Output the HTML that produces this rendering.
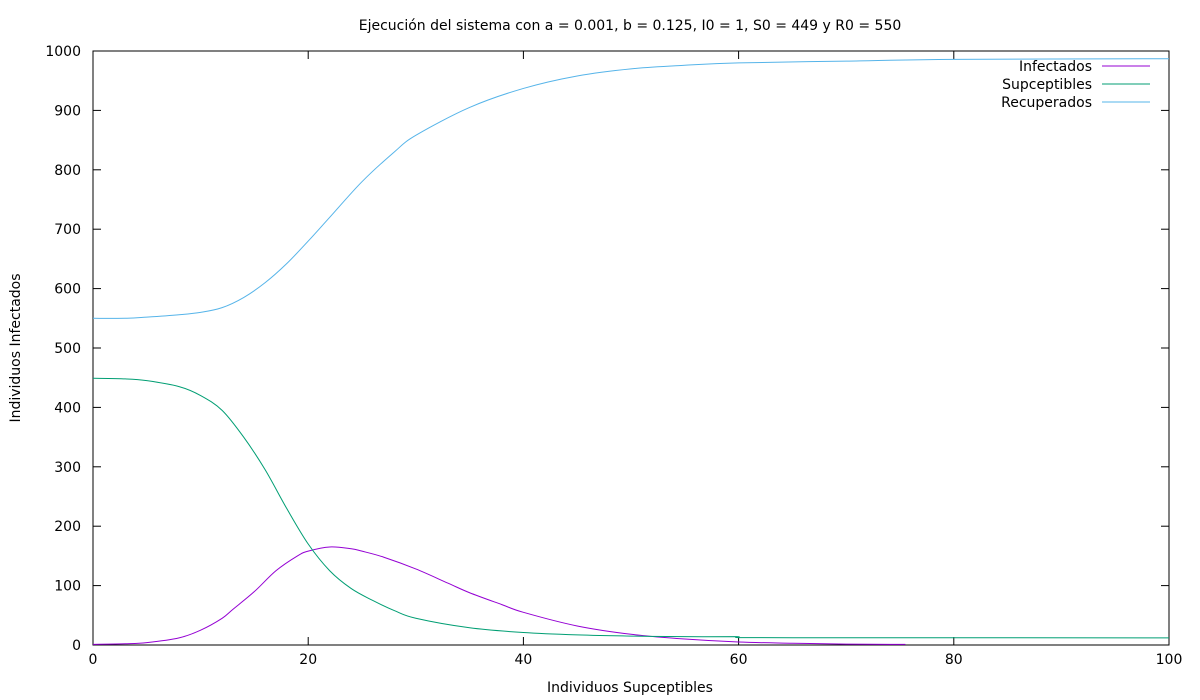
<!DOCTYPE html>
<html><head><meta charset="utf-8">
<style>
html,body{margin:0;padding:0;background:#fff;}
svg{display:block;font-family:"DejaVu Sans","Liberation Sans",sans-serif;}
</style></head>
<body>
<svg id="chart" width="1200" height="700" viewBox="0 0 1200 700" xmlns="http://www.w3.org/2000/svg">
<text x="630" y="30" text-anchor="middle" font-size="14">Ejecución del sistema con a = 0.001, b = 0.125, I0 = 1, S0 = 449 y R0 = 550</text>
<text x="630" y="692" text-anchor="middle" font-size="14">Individuos Supceptibles</text>
<text transform="translate(20,348) rotate(-90)" text-anchor="middle" font-size="14">Individuos Infectados</text>
<g id="axes"></g>
<g id="series"></g>
<g id="legend"></g>
</svg>
<script>
const xTicks=[0,20,40,60,80,100];
const yTicks=[0,100,200,300,400,500,600,700,800,900,1000];
const infT=[0,3,5,8,10,12,13,15,17,19,20,22,24,25,27,30,33,35,38,40,45,50,55,60,65,70,75.5];
const infV=[1,2,4,12,25,45,60,90,125,150,158,165,162,158,148,128,104,88,68,55,32,18,10,5,3,1.5,1];
const susT=[0,3,5,8,10,12,14,16,18,20,22,24,26,28,30,35,40,45,50,55,59.8,60,65,100];
const susV=[449,448,445,435,420,395,350,295,230,170,125,95,75,58,45,29,21,17,15,14,14,12.5,12.3,12];
const recT=[0,3,5,8,10,12,14,16,18,20,22,25,28,30,35,40,45,50,55,60,70,80,100];
const recV=[550,550,552,556,560,568,585,610,642,680,720,780,830,858,905,937,958,970,976,980,983,986,987];
const series=[
 {name:'Infectados',key:'infected',t:infT,v:infV,color:'#9400d3'},
 {name:'Supceptibles',key:'susceptible',t:susT,v:susV,color:'#009e73'},
 {name:'Recuperados',key:'recovered',t:recT,v:recV,color:'#56b4e9'}
];
const L=93,R=1169,T=51,B=645;
const xs=v=>L+(v/100)*(R-L);
const ys=v=>B-(v/1000)*(B-T);
const NS='http://www.w3.org/2000/svg';
function mk(tag,attrs,parent){const e=document.createElementNS(NS,tag);for(const k in attrs)e.setAttribute(k,attrs[k]);parent.appendChild(e);return e;}
const axes=document.getElementById('axes');
xTicks.forEach(t=>{
 const x=xs(t);
 const l1=mk('line',{x1:x,y1:B,x2:x,y2:B-8,stroke:'#000'},axes);
 
 
 const l2=mk('line',{x1:x,y1:T,x2:x,y2:T+8,stroke:'#000'},axes);
 
 
 const tx=mk('text',{x:x,y:B+19,'text-anchor':'middle','font-size':'14'},axes);
 tx.textContent=t;
 
 
});
yTicks.forEach(t=>{
 const y=ys(t);
 const l1=mk('line',{x1:L,y1:y,x2:L+8,y2:y,stroke:'#000'},axes);
 
 
 const l2=mk('line',{x1:R,y1:y,x2:R-8,y2:y,stroke:'#000'},axes);
 
 
 const tx=mk('text',{x:L-12,y:y+5,'text-anchor':'end','font-size':'14'},axes);
 tx.textContent=t;
 
 
});
const frame=mk('rect',{x:L,y:T,width:R-L,height:B-T,fill:'none',stroke:'#000'},axes);


const sg=document.getElementById('series');
const lg=document.getElementById('legend');
series.forEach((s,i)=>{
 const pts=s.t.map((t,j)=>[xs(t),ys(s.v[j])]);
 let d='M'+pts[0][0]+','+pts[0][1];
 for(let j=0;j<pts.length-1;j++){
  const p0=pts[j-1]||pts[j],p1=pts[j],p2=pts[j+1],p3=pts[j+2]||p2;
  const c1x=p1[0]+(p2[0]-p0[0])/6,c1y=p1[1]+(p2[1]-p0[1])/6;
  const c2x=p2[0]-(p3[0]-p1[0])/6,c2y=p2[1]-(p3[1]-p1[1])/6;
  d+=' C'+c1x+','+c1y+' '+c2x+','+c2y+' '+p2[0]+','+p2[1];
 }
 const p=mk('path',{d:d,fill:'none',stroke:s.color,'stroke-width':'1'},sg);
 
 
 const ly=66+i*18;
 const lt=mk('text',{x:1092,y:ly+5,'text-anchor':'end','font-size':'14'},lg);
 lt.textContent=s.name;
 
 
 const ll=mk('line',{x1:1102,y1:ly,x2:1150,y2:ly,stroke:s.color},lg);
 
 
});
</script>
</body></html>
